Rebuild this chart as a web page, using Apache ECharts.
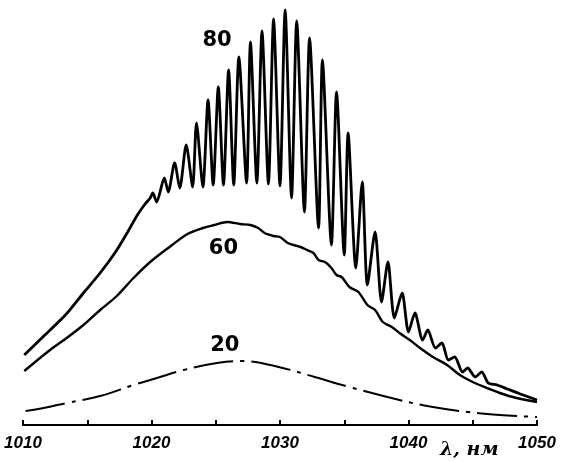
<!DOCTYPE html>
<html>
<head>
<meta charset="utf-8">
<script src="https://cdn.jsdelivr.net/npm/echarts@6/dist/echarts.min.js"></script>
<style>
  html, body { margin: 0; padding: 0; background: #fff; }
</style>
</head>
<body>
<div id="chart" style="width:561px;height:461px;"></div>
<script>
// wavelength, nm
var lam80 = [1010.1, 1011.7, 1013.3, 1014.7, 1016.0, 1017.2, 1018.1, 1018.9, 1019.5, 1019.9,
  1020.1, 1020.4, 1021.0, 1021.3, 1021.8, 1022.2, 1022.7, 1023.2, 1023.5, 1024.0,
  1024.4, 1024.8, 1025.2, 1025.6, 1026.0, 1026.4, 1026.8, 1027.4, 1027.7, 1028.2,
  1028.6, 1029.1, 1029.5, 1030.0, 1030.4, 1030.9, 1031.3, 1031.9, 1032.3, 1033.0,
  1033.3, 1034.0, 1034.4, 1035.0, 1035.3, 1035.9, 1036.4, 1036.8, 1037.4, 1037.9,
  1038.4, 1038.9, 1039.5, 1040.0, 1040.5, 1041.1, 1041.5, 1042.1, 1042.6, 1043.1,
  1043.6, 1044.2, 1044.6, 1045.2, 1045.7, 1046.2, 1046.9, 1047.7, 1048.7, 1050.0];
var val80 = [70, 90, 110, 132, 152, 173, 192, 210, 221, 227,
  232, 223, 247, 233, 262, 237, 280, 238, 302, 238,
  325, 240, 338, 240, 355, 240, 368, 242, 383, 242,
  394, 241, 406, 239, 415, 227, 404, 213, 387, 197,
  365, 180, 333, 170, 292, 157, 243, 140, 193, 123,
  163, 107, 132, 93, 112, 85, 95, 77, 82, 65,
  68, 53, 57, 48, 53, 42, 40, 36, 31, 25];

var lam60 = [1010.1, 1012.1, 1013.4, 1014.7, 1016.0, 1017.3, 1018.6, 1019.9, 1021.4, 1022.8,
  1024.0, 1024.9, 1025.9, 1026.9, 1027.7, 1028.3, 1028.8, 1029.5, 1030.0, 1030.6,
  1031.6, 1032.1, 1032.6, 1033.0, 1033.5, 1034.0, 1034.4, 1034.8, 1035.4, 1036.1,
  1036.8, 1037.4, 1038.0, 1038.7, 1039.3, 1040.1, 1040.9, 1041.9, 1043.0, 1044.0,
  1045.0, 1046.1, 1047.1, 1048.4, 1050.0];
var val60 = [54, 75, 87, 100, 115, 129, 147, 163, 178, 191,
  197, 200, 203, 201, 200, 197, 192, 189, 188, 182,
  178, 175, 172, 165, 163, 157, 150, 148, 138, 133,
  120, 115, 103, 98, 92, 85, 77, 68, 60, 50,
  43, 37, 32, 27, 23];

var lam20 = [1010.2, 1011.6, 1013.4, 1016.0, 1018.6, 1019.9, 1022.5, 1025.1, 1027.1,
  1030.2, 1032.7, 1035.4, 1039.3, 1041.9, 1044.6, 1047.1, 1050.0];
var val20 = [14, 17, 22, 29, 40, 45, 55, 62, 64, 57, 48, 38, 25, 18, 13, 10, 8];

var curveNames = ['80', '60', '20'];
// where the curve labels sit, in data units
var labelLam = [1025.1, 1025.6, 1025.7];
var labelVal = [384, 176, 79];

function pairs(xs, ys) {
  var out = [];
  for (var i = 0; i < xs.length; i++) {
    out.push([xs[i], ys[i]]);
  }
  return out;
}

function curveLabel(i) {
  return {
    symbol: 'circle',
    symbolSize: 0,
    silent: true,
    label: {
      show: true,
      position: 'inside',
      formatter: curveNames[i],
      color: '#000',
      fontFamily: 'DejaVu Sans',
      fontWeight: 'bold',
      fontSize: 21
    },
    data: [{coord: [labelLam[i], labelVal[i]]}]
  };
}

var chart = echarts.init(document.getElementById('chart'));
var option = {
  animation: false,
  backgroundColor: '#fff',
  grid: {left: 23, right: 24, top: 5, bottom: 36},
  xAxis: {
    type: 'value',
    min: 1010,
    max: 1050,
    interval: 5,
    axisLine: {lineStyle: {color: '#000', width: 2}},
    axisTick: {inside: true, length: 5, lineStyle: {color: '#000', width: 2}},
    axisLabel: {
      margin: 10,
      color: '#000',
      fontFamily: 'Liberation Sans',
      fontStyle: 'italic',
      fontWeight: 'bold',
      fontSize: 17,
      formatter: function (v) {
        return v % 10 === 0 ? String(v) : '';
      }
    },
    splitLine: {show: false}
  },
  yAxis: {
    type: 'value',
    min: 0,
    max: 420,
    show: false
  },
  graphic: [{
    type: 'text',
    left: 440,
    top: 441,
    style: {
      text: 'λ, нм',
      fill: '#000',
      font: 'italic bold 19px "DejaVu Serif"'
    }
  }],
  series: [
    {
      name: '80',
      type: 'line',
      data: pairs(lam80, val80),
      showSymbol: false,
      smooth: 0.25,
      lineStyle: {color: '#000', width: 2.8},
      markPoint: curveLabel(0)
    },
    {
      name: '60',
      type: 'line',
      data: pairs(lam60, val60),
      showSymbol: false,
      smooth: 0.3,
      lineStyle: {color: '#000', width: 2.4},
      markPoint: curveLabel(1)
    },
    {
      name: '20',
      type: 'line',
      data: pairs(lam20, val20),
      showSymbol: false,
      smooth: 0.4,
      lineStyle: {color: '#000', width: 2, type: [40, 7, 4, 7]},
      markPoint: curveLabel(2)
    }
  ]
};
chart.setOption(option);
</script>
</body>
</html>
